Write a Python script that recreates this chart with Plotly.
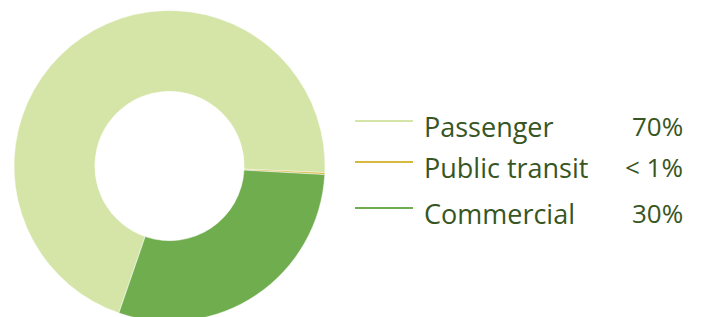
import plotly.graph_objects as go

categories = ["Passenger", "Public transit", "Commercial"]
values = [70.4, 0.2, 29.4]
pct_labels = ["70%", "< 1%", "30%"]
colors = ["#d4e5a7", "#d8b940", "#70ad4f"]

W, H = 702, 330  # window is 317 tall; donut is clipped at the bottom as in the reference

fig = go.Figure()
fig.add_trace(go.Pie(
    labels=categories,
    values=values,
    hole=0.48,
    sort=False,
    direction="clockwise",
    rotation=199,
    marker=dict(colors=colors, line=dict(color="white", width=0.5)),
    textinfo="none",
    hoverinfo="label+percent",
    showlegend=False,
    domain=dict(x=[14 / W, 325 / W], y=[1 - 321.5 / H, 1 - 10.5 / H]),
))

legend_y = [121, 162, 208]
text_color = "#375623"
for cat, pct, col, py in zip(categories, pct_labels, colors, legend_y):
    fig.add_shape(type="line", xref="paper", yref="paper",
                  x0=355 / W, x1=413 / W, y0=1 - py / H, y1=1 - py / H,
                  line=dict(color=col, width=2))
    fig.add_annotation(x=422 / W, y=1 - (py + 5) / H, xref="paper", yref="paper",
                       text=cat, showarrow=False, xanchor="left", yanchor="middle",
                       font=dict(family="Open Sans", size=27, color=text_color))
    fig.add_annotation(x=685 / W, y=1 - (py + 5) / H, xref="paper", yref="paper",
                       text=pct, showarrow=False, xanchor="right", yanchor="middle",
                       font=dict(family="Open Sans", size=26, color=text_color))

fig.update_layout(
    width=W, height=H,
    margin=dict(l=0, r=0, t=0, b=0),
    paper_bgcolor="white", plot_bgcolor="white",
)

fig.write_html("out.html", config={"displayModeBar": False},
               post_script="document.body.style.margin='0px';document.body.style.overflow='hidden';document.documentElement.style.overflow='hidden';")
